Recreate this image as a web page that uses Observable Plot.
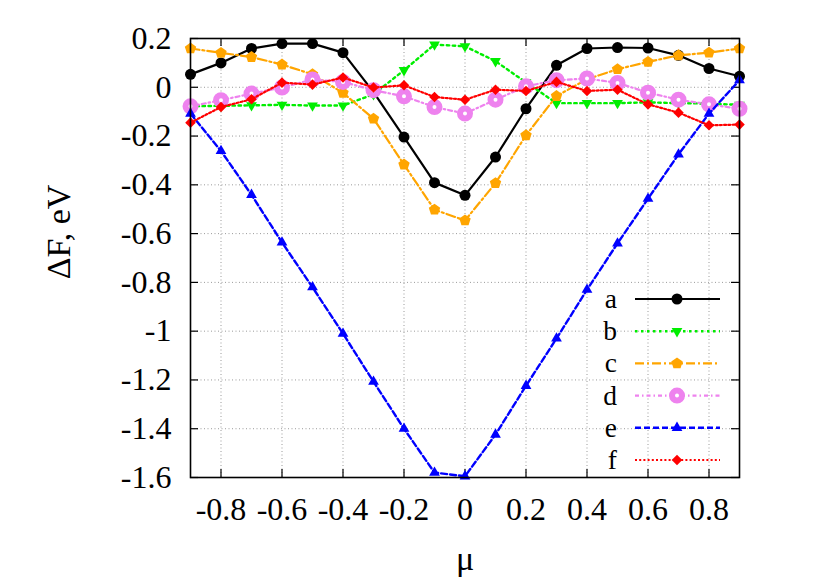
<!DOCTYPE html>
<html>
<head>
<meta charset="utf-8">
<script src="https://cdn.jsdelivr.net/npm/d3@7"></script>
<script src="https://cdn.jsdelivr.net/npm/@observablehq/plot@0.6"></script>
<style>
  html, body { margin: 0; padding: 0; background: #fff; }
  #wrap { position: relative; width: 830px; height: 581px; }
  #wrap svg { position: absolute; left: 0; top: 0; }
</style>
</head>
<body>
<div id="wrap"></div>
<script>
// ---- data ----
const mu = [-0.9, -0.8, -0.7, -0.6, -0.5, -0.4, -0.3, -0.2, -0.1, 0, 0.1, 0.2, 0.3, 0.4, 0.5, 0.6, 0.7, 0.8, 0.9];
const seriesA = [0.053, 0.100, 0.159, 0.179, 0.179, 0.142, -0.02, -0.204, -0.391, -0.443, -0.286, -0.088, 0.090, 0.159, 0.163, 0.161, 0.131, 0.077, 0.045];
const seriesB = [-0.078, -0.076, -0.074, -0.072, -0.075, -0.075, -0.029, 0.070, 0.175, 0.168, 0.107, 0.020, -0.065, -0.065, -0.065, -0.062, -0.065, -0.067, -0.072];
const seriesC = [0.159, 0.141, 0.124, 0.093, 0.053, -0.023, -0.129, -0.317, -0.502, -0.546, -0.393, -0.197, -0.036, 0.033, 0.074, 0.104, 0.131, 0.142, 0.159];
const seriesD = [-0.078, -0.053, -0.026, -0.001, 0.032, 0.022, -0.012, -0.037, -0.081, -0.108, -0.051, 0.004, 0.029, 0.036, 0.018, -0.022, -0.051, -0.070, -0.088];
const seriesE = [-0.108, -0.261, -0.441, -0.636, -0.820, -1.010, -1.207, -1.400, -1.580, -1.595, -1.424, -1.224, -1.030, -0.830, -0.640, -0.457, -0.275, -0.108, 0.029];
const seriesF = [-0.145, -0.081, -0.049, 0.019, 0.011, 0.040, -0.001, 0.008, -0.040, -0.051, -0.010, -0.015, 0.022, -0.015, -0.010, -0.070, -0.104, -0.156, -0.153];
const seriesNames = ["a", "b", "c", "d", "e", "f"];
const xTicks = [-0.8, -0.6, -0.4, -0.2, 0, 0.2, 0.4, 0.6, 0.8];
const yTicks = [-1.6, -1.4, -1.2, -1, -0.8, -0.6, -0.4, -0.2, 0, 0.2];
const xLabel = "μ";
const yLabel = "ΔF, eV";

const FONT = "Liberation Serif, serif";

// ---- symbols ----
function mk(fn) { return { draw(ctx, size) { fn(ctx, Math.sqrt(size / Math.PI)); } }; }
function poly(ctx, pts) { ctx.moveTo(pts[0][0], pts[0][1]); for (let i = 1; i < pts.length; i++) ctx.lineTo(pts[i][0], pts[i][1]); ctx.closePath(); }
function regular(n, R, startDeg) {
  const p = [];
  for (let i = 0; i < n; i++) { const a = (startDeg + i * 360 / n) * Math.PI / 180; p.push([R * Math.cos(a), R * Math.sin(a)]); }
  return p;
}
const symCircle = mk((ctx, r) => { ctx.moveTo(r, 0); ctx.arc(0, 0, r, 0, 2 * Math.PI); });
const symTriUp = mk((ctx, r) => poly(ctx, regular(3, r * 1.35, -90)));
const symTriDown = mk((ctx, r) => poly(ctx, regular(3, r * 1.35, 90)));
const symPent = mk((ctx, r) => poly(ctx, regular(5, r * 1.2, -90)));
const symDiamond = mk((ctx, r) => poly(ctx, regular(4, r * 1.15, -90)));

const styles = {
  a: { color: "#000000", dash: null, width: 2.2, symbol: symCircle, r: 5.5, ring: false },
  b: { color: "#00ee00", dash: "2.5,3.5", width: 2.4, symbol: symTriDown, r: 4.6, ring: false },
  c: { color: "#ffa500", dash: "9,3,2,3", width: 2.2, symbol: symPent, r: 5, ring: false },
  d: { color: "#ee82ee", dash: "4,3,1.5,3", width: 2.2, symbol: symCircle, r: 5, ring: true },
  e: { color: "#0000ff", dash: "6,3", width: 2.4, symbol: symTriUp, r: 4.6, ring: false },
  f: { color: "#ff0000", dash: "2,2.2", width: 2.2, symbol: symDiamond, r: 4.6, ring: false }
};

const allSeries = [seriesA, seriesB, seriesC, seriesD, seriesE, seriesF];
const rows = [];
seriesNames.forEach((name, k) => {
  mu.forEach((m, i) => rows.push({ series: name, mu: m, dF: allSeries[k][i] }));
});

const fmt = d => String(+d.toFixed(1));
const xMin = -0.9, xMax = 0.9, yMin = -1.6, yMax = 0.2;
const tickLenY = 8 / 243.6; // ~8px in y units
const tickLenX = 8 / 305;   // ~8px in x units

const seriesMarks = [];
seriesNames.forEach(name => {
  const s = styles[name];
  const data = rows.filter(r => r.series === name);
  seriesMarks.push(Plot.line(data, {
    x: "mu", y: "dF", stroke: s.color, strokeWidth: s.width,
    strokeDasharray: s.dash, strokeLinejoin: "miter"
  }));
  if (s.ring) {
    seriesMarks.push(Plot.dot(data, { x: "mu", y: "dF", symbol: s.symbol, r: s.r, fill: "white", stroke: s.color, strokeWidth: 6 }));
  } else {
    seriesMarks.push(Plot.dot(data, { x: "mu", y: "dF", symbol: s.symbol, r: s.r, fill: s.color, stroke: "none" }));
  }
});

const chart = Plot.plot({
  width: 830,
  height: 581,
  marginLeft: 190,
  marginRight: 91,
  marginTop: 38,
  marginBottom: 104,
  x: { domain: [xMin, xMax] },
  y: { domain: [yMin, yMax] },
  style: { background: "white", color: "black", fontFamily: FONT },
  marks: [
    Plot.gridX({ ticks: xTicks, stroke: "#9a9a9a", strokeOpacity: 1, strokeWidth: 1, strokeDasharray: "1,2.5" }),
    Plot.gridY({ ticks: yTicks, stroke: "#9a9a9a", strokeOpacity: 1, strokeWidth: 1, strokeDasharray: "1,2.5" }),
    Plot.axisX({ ticks: xTicks, tickSize: 0, tickPadding: 20, tickFormat: fmt, label: null, fontSize: 32 }),
    Plot.axisY({ ticks: yTicks, tickSize: 0, tickPadding: 19, tickFormat: fmt, label: null, fontSize: 32 }),
    Plot.ruleX(xTicks, { x: d => d, y1: yMin, y2: yMin + tickLenY, stroke: "black", strokeWidth: 1.2 }),
    Plot.ruleX(xTicks, { x: d => d, y1: yMax, y2: yMax - tickLenY, stroke: "black", strokeWidth: 1.2 }),
    Plot.ruleY(yTicks, { y: d => d, x1: xMin, x2: xMin + tickLenX, stroke: "black", strokeWidth: 1.2 }),
    Plot.ruleY(yTicks, { y: d => d, x1: xMax, x2: xMax - tickLenX, stroke: "black", strokeWidth: 1.2 }),
    ...seriesMarks,
    Plot.frame({ stroke: "black", strokeWidth: 1.6 })
  ]
});

const wrap = document.getElementById("wrap");
wrap.appendChild(chart);
chart.querySelectorAll("text").forEach(t => {
  t.style.fontFamily = FONT;
  t.style.fontSize = "32px";
  t.style.fill = "black";
});

// ---- overlay: axis titles and legend ----
const ov = d3.select(wrap).append("svg")
  .attr("width", 830).attr("height", 581)
  .style("pointer-events", "none");

function addText(sel) { sel.style("font-family", FONT).attr("fill", "black"); return sel; }

addText(ov.append("text").attr("transform", "translate(70,232) rotate(-90)")
  .attr("text-anchor", "middle").style("font-size", "34px").text(yLabel));
addText(ov.append("text").attr("x", 465).attr("y", 570)
  .attr("text-anchor", "middle").style("font-size", "34px").text(xLabel));

const legX = 617, lineX1 = 635, lineX2 = 720, markX = 677, legY0 = 299, legDY = 32.2;
seriesNames.forEach((name, i) => {
  const s = styles[name];
  const y = legY0 + i * legDY;
  addText(ov.append("text").attr("x", legX).attr("y", y + 9).attr("text-anchor", "end")
    .style("font-size", "27.5px").text(name));
  ov.append("line").attr("x1", lineX1).attr("x2", lineX2).attr("y1", y).attr("y2", y)
    .attr("stroke", s.color).attr("stroke-width", s.width)
    .attr("stroke-dasharray", s.dash);
  const sym = d3.symbol().type(s.symbol).size(Math.PI * s.r * s.r);
  const p = ov.append("path").attr("d", sym()).attr("transform", `translate(${markX},${y})`);
  if (s.ring) p.attr("fill", "white").attr("stroke", s.color).attr("stroke-width", 6);
  else p.attr("fill", s.color);
});
</script>
</body>
</html>
